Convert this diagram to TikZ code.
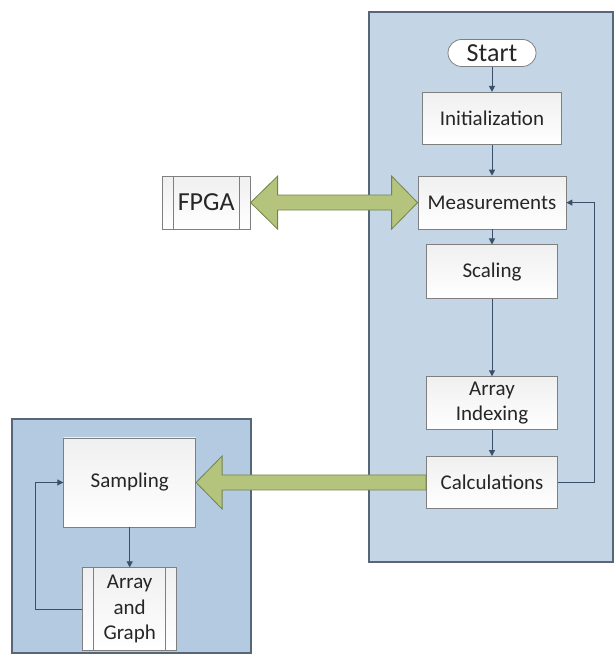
\documentclass[tikz,border=0pt]{standalone}
\usepackage{fontspec}
\setmainfont{Carlito}
\usepackage{tikz}
\usetikzlibrary{calc}
\usetikzlibrary{positioning}
\usetikzlibrary{arrows.meta}
\usetikzlibrary{backgrounds}
\usepackage{xcolor}

\definecolor{panelblue}{HTML}{C4D5E5}
\definecolor{panelblueB}{HTML}{B3CAE0}
\definecolor{paneledge}{HTML}{56677A}
\definecolor{boxedge}{HTML}{7F7F7F}
\definecolor{flowline}{HTML}{3A5068}
\definecolor{arrowgreen}{HTML}{B4C47D}
\definecolor{arrowedge}{HTML}{74834B}

\tikzset{
  block/.style={rectangle, draw=boxedge, line width=0.8pt, top color=black!6, bottom color=white,
    text=black!85, font=\fontsize{21}{25.5}\selectfont, align=center, inner sep=0pt},
  subproc/.style={block, path picture={
    \draw[draw=boxedge, line width=0.8pt]
      ([xshift=11pt]path picture bounding box.north west) -- ([xshift=11pt]path picture bounding box.south west)
      ([xshift=-11pt]path picture bounding box.north east) -- ([xshift=-11pt]path picture bounding box.south east);}},
  flow/.style={draw=flowline, line width=1pt, -{Triangle[length=6pt,width=6pt]}},
  bigarrow/.style={fill=arrowgreen, draw=arrowedge, line width=0.8pt, line join=miter},
  panel/.style={fill=panelblue, draw=paneledge, line width=1.2pt}
}

\begin{document}
\begin{tikzpicture}[x=1pt, y=1pt]

    \useasboundingbox (0,0) rectangle (614,654);

    % Define nodes
    \node[block, rounded corners=13.5pt, minimum width=88pt, minimum height=27pt,
      top color=white, font=\fontsize{26}{30}\selectfont] (start) at (492,601) {Start};
    \node[block, below=25pt of start, minimum width=139pt, minimum height=52pt] (init) {Initialization};
    \node[block, below=31pt of init, minimum width=148pt, minimum height=53pt] (meas) {Measurements};
    \node[block, below=15pt of meas, minimum width=131pt, minimum height=54pt] (scal) {Scaling};
    \node[block, below=77pt of scal, minimum width=131pt, minimum height=53pt] (index) {Array\\Indexing};
    \node[block, below=26pt of index, minimum width=131pt, minimum height=52pt] (calc) {Calculations};
    \node[subproc, left=167pt of meas, minimum width=88pt, minimum height=53pt,
      font=\fontsize{26}{30}\selectfont] (fpga) {FPGA};
    \node[block, left=230pt of calc, minimum width=132pt, minimum height=89pt] (sampl) {Sampling};
    \node[subproc, below=40pt of sampl, minimum width=94pt, minimum height=83pt] (graph) {Array\\and\\Graph};

    % Panels
    \begin{scope}[on background layer]
      \draw[panel] (369,92) rectangle (613,642);
      \draw[panel, fill=panelblueB] (12,1) rectangle (251,235);
    \end{scope}

    % Connect the nodes
    \draw[flow] (start) -- (init);
    \draw[flow] (init) -- (meas);
    \draw[flow] (meas) -- (scal);
    \draw[flow] (scal) -- (index);
    \draw[flow] (index) -- (calc);
    \draw[flow] (calc.east) -- ++(37pt,0) |- (meas.east);
    \draw[flow] (sampl) -- (graph);
    \draw[flow] (graph.west) -- ++(-47pt,0) |- (sampl.west);

    % Data paths
    \draw[bigarrow] (fpga.east) -- ++(27pt,26.5pt) -- ++(0,-19pt)
      -- ($(meas.west)+(-26pt,7.5pt)$) -- ++(0,19pt) -- (meas.west)
      -- ++(-26pt,-26.5pt) -- ++(0,19pt)
      -- ($(fpga.east)+(27pt,-7.5pt)$) -- ++(0,-19pt) -- cycle;
    \draw[bigarrow] (sampl.east) -- ++(26pt,26.5pt) -- ++(0,-19pt)
      -- ($(calc.west)+(0,7.5pt)$) -- ++(0,-15pt)
      -- ($(sampl.east)+(26pt,-7.5pt)$) -- ++(0,-19pt) -- cycle;

  \end{tikzpicture}
\end{document}
